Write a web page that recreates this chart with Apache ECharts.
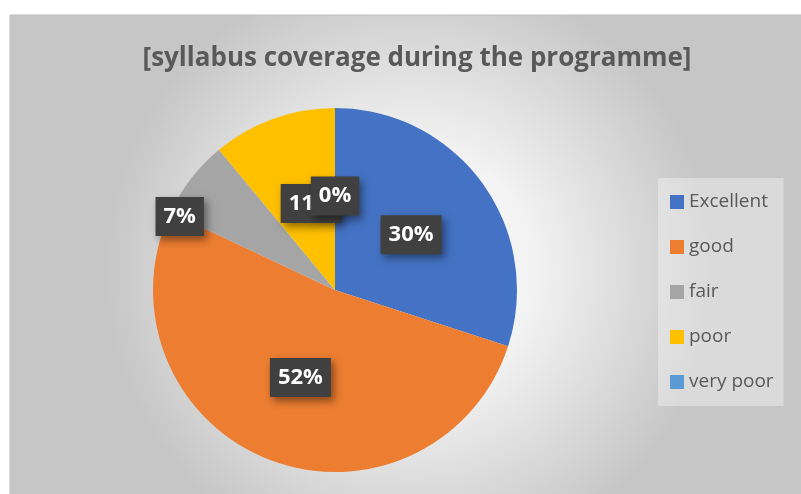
<!DOCTYPE html>
<html>
<head>
<meta charset="utf-8">
<script src="https://cdn.jsdelivr.net/npm/echarts@6/dist/echarts.min.js"></script>
<style>
  html, body { margin: 0; padding: 0; background: #ffffff; }
  #container { width: 801px; height: 494px; }
</style>
</head>
<body>
<div id="container"></div>
<script>
"use strict";

// 数据
const categories = ['Excellent', 'good', 'fair', 'poor', 'very poor'];
const shares = [30, 52, 7, 11, 0];
const colors = ['#4472C4', '#ED7D31', '#A5A5A5', '#FFC000', '#5B9BD5'];

let myChart = echarts.init(document.getElementById('container'));

let option = {
  animation: false,
  backgroundColor: '#ffffff',
  graphic: [
    {
      type: 'rect',
      z: -10,
      silent: true,
      shape: { x: 10, y: 15, width: 800, height: 490 },
      style: {
        fill: {
          type: 'radial',
          x: 0.5,
          y: 0.52,
          r: 0.62,
          colorStops: [
            { offset: 0, color: '#ffffff' },
            { offset: 0.4, color: '#f3f3f3' },
            { offset: 1, color: '#c6c6c6' },
          ],
        },
        stroke: '#bdbdbd',
        lineWidth: 1,
      },
    },
  ],
  title: {
    text: '[syllabus coverage during the programme]',
    left: 412,
    top: 41,
    textAlign: 'center',
    textStyle: {
      fontFamily: 'Open Sans',
      fontWeight: 'bold',
      fontSize: 26,
      color: '#595959',
    },
  },
  legend: {
    orient: 'vertical',
    left: 658,
    top: 178,
    data: categories,
    icon: 'rect',
    itemWidth: 14,
    itemHeight: 14,
    itemGap: 23,
    itemStyle: { borderWidth: 0 },
    padding: [13, 10, 13, 12],
    backgroundColor: 'rgba(255,255,255,0.35)',
    textStyle: {
      fontFamily: 'Open Sans',
      fontSize: 19,
      lineHeight: 22,
      color: '#595959',
    },
  },
  series: [
    {
      type: 'pie',
      center: [335, 290],
      radius: [0, 182],
      startAngle: 90,
      clockwise: true,
      avoidLabelOverlap: false,
      label: {
        show: true,
        position: 'inside',
        formatter: '{d}%',
        fontFamily: 'Open Sans',
        fontWeight: 'bold',
        fontSize: 22,
        color: '#ffffff',
        backgroundColor: '#404040',
        padding: [9, 8, 8, 8],
        shadowColor: 'rgba(0,0,0,0.45)',
        shadowBlur: 8,
        shadowOffsetX: 3,
        shadowOffsetY: 4,
      },
      labelLayout: function (params) {
        if (params.dataIndex === 2) {
          return { dx: -81, dy: -16 };
        }
        if (params.dataIndex === 3) {
          return { dx: 8, dy: 2 };
        }
        return {};
      },
      labelLine: { show: false },
      itemStyle: { borderWidth: 0 },
      emphasis: { disabled: true },
      data: categories.map(function (name, i) {
        return {
          name: name,
          value: shares[i],
          itemStyle: { color: colors[i] },
        };
      }),
    },
  ],
};

myChart.setOption(option);
</script>
</body>
</html>
